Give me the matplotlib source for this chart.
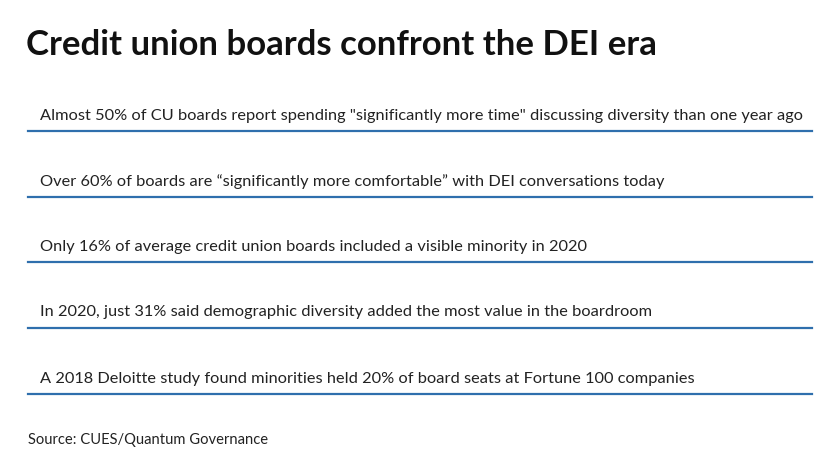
import matplotlib
matplotlib.use("Agg")
import matplotlib.pyplot as plt
from matplotlib.lines import Line2D

title = "Credit union boards confront the DEI era"
statements = [
    'Almost 50% of CU boards report spending "significantly more time" discussing diversity than one year ago',
    'Over 60% of boards are \u201csignificantly more comfortable\u201d with DEI conversations today',
    'Only 16% of average credit union boards included a visible minority in 2020',
    'In 2020, just 31% said demographic diversity added the most value in the boardroom',
    'A 2018 Deloitte study found minorities held 20% of board seats at Fortune 100 companies',
]
source = "Source: CUES/Quantum Governance"

W, H = 840, 472
fig = plt.figure(figsize=(W/100, H/100), dpi=100)
fig.patch.set_facecolor("white")
def fx(x): return x / W
def fy(y): return 1 - y / H

fig.text(fx(26), fy(45), title, fontsize=25, fontweight="bold", family="Lato",
         color="#111111", va="center", ha="left")
text_y = [116, 182, 247, 312, 379]
line_y = [131, 197, 262, 328, 394]
for s, ty, ly in zip(statements, text_y, line_y):
    fig.text(fx(40), fy(ty), s, fontsize=11.8, family="Lato", color="#222222",
             va="center", ha="left")
    fig.add_artist(Line2D([fx(28), fx(812)], [fy(ly), fy(ly)], color="#2f6fad",
                          linewidth=1.6, transform=fig.transFigure))
fig.text(fx(28), fy(440), source, fontsize=10.6, family="Lato", color="#222222",
         va="center", ha="left")
fig.savefig("out.png", dpi=100)
